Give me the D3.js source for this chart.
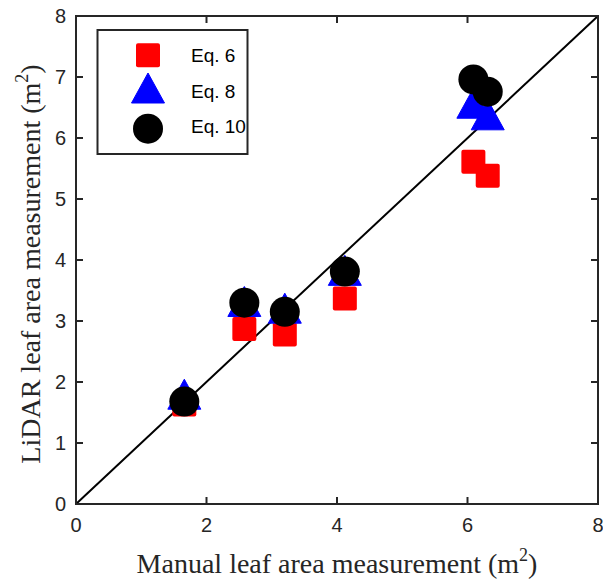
<!DOCTYPE html>
<html>
<head>
<meta charset="utf-8">
<script src="https://cdn.jsdelivr.net/npm/d3@7"></script>
<style>
  body { margin: 0; background: #fff; }
  .tick-label { font-family: "Liberation Sans", Arial, sans-serif; font-size: 20px; fill: #262626; }
  .axis-label { font-family: "Liberation Serif", "Times New Roman", serif; font-size: 28px; fill: #262626; }
  .legend-text { font-family: "Liberation Sans", Arial, sans-serif; font-size: 19px; fill: #000; }
</style>
</head>
<body>
<div id="chart"></div>
<script>
// Data
const manual = [1.66, 2.58, 3.20, 4.12, 6.09, 6.31];
const eq6 = [1.63, 2.87, 2.78, 3.37, 5.61, 5.38];
const eq8 = [1.80, 3.32, 3.21, 3.83, 6.57, 6.38];
const eq10 = [1.68, 3.30, 3.15, 3.81, 6.96, 6.76];
const ticks = [0, 2, 4, 6, 8];
const yTicks = [0, 1, 2, 3, 4, 5, 6, 7, 8];
const legendLabels = ["Eq. 6", "Eq. 8", "Eq. 10"];

// Setup: dimensions and margins
const svgWidth = 603, svgHeight = 581;
const margin = { top: 16, right: 5, bottom: 77, left: 76 };
const innerWidth = svgWidth - margin.left - margin.right;
const innerHeight = svgHeight - margin.top - margin.bottom;
const axisColor = "#262626";

const xScale = d3.scaleLinear().domain([0, 8]).range([0, innerWidth]);
const yScale = d3.scaleLinear().domain([0, 8]).range([innerHeight, 0]);

const svg = d3.select("#chart").append("svg")
    .attr("width", svgWidth)
    .attr("height", svgHeight);

const g = svg.append("g")
    .attr("transform", `translate(${margin.left}, ${margin.top})`);

// 1:1 line
g.append("line")
    .attr("x1", xScale(0)).attr("y1", yScale(0))
    .attr("x2", xScale(8)).attr("y2", yScale(8))
    .attr("stroke", "#000")
    .attr("stroke-width", 2);

// Markers
const sq = 24;
const triPath = "M0,-15L16.5,15L-16.5,15Z";

g.selectAll(".sq")
  .data(manual.map((d, i) => [d, eq6[i]]))
  .join("rect")
    .attr("x", d => xScale(d[0]) - sq / 2)
    .attr("y", d => yScale(d[1]) - sq / 2)
    .attr("width", sq).attr("height", sq)
    .attr("rx", 2)
    .attr("fill", "#ff0000");

g.selectAll(".tri")
  .data(manual.map((d, i) => [d, eq8[i]]))
  .join("path")
    .attr("d", triPath)
    .attr("transform", d => `translate(${xScale(d[0])}, ${yScale(d[1])})`)
    .attr("fill", "#0000ff")
    .attr("stroke", "#0000ff")
    .attr("stroke-linejoin", "round")
    .attr("stroke-width", 1);

g.selectAll(".circ")
  .data(manual.map((d, i) => [d, eq10[i]]))
  .join("circle")
    .attr("cx", d => xScale(d[0]))
    .attr("cy", d => yScale(d[1]))
    .attr("r", 15)
    .attr("fill", "#000");

// Box and inward ticks
const tickLen = 7;
g.append("rect")
    .attr("width", innerWidth).attr("height", innerHeight)
    .attr("fill", "none")
    .attr("stroke", axisColor)
    .attr("stroke-width", 2);

ticks.slice(1, -1).forEach(t => {
  g.append("line").attr("x1", xScale(t)).attr("x2", xScale(t))
    .attr("y1", innerHeight).attr("y2", innerHeight - tickLen)
    .attr("stroke", axisColor).attr("stroke-width", 2);
  g.append("line").attr("x1", xScale(t)).attr("x2", xScale(t))
    .attr("y1", 0).attr("y2", tickLen)
    .attr("stroke", axisColor).attr("stroke-width", 2);
});
yTicks.slice(1, -1).forEach(t => {
  g.append("line").attr("y1", yScale(t)).attr("y2", yScale(t))
    .attr("x1", 0).attr("x2", tickLen)
    .attr("stroke", axisColor).attr("stroke-width", 2);
  g.append("line").attr("y1", yScale(t)).attr("y2", yScale(t))
    .attr("x1", innerWidth).attr("x2", innerWidth - tickLen)
    .attr("stroke", axisColor).attr("stroke-width", 2);
});

// Tick labels
g.selectAll(".xt")
  .data(ticks)
  .join("text")
    .attr("class", "tick-label")
    .attr("x", d => xScale(d))
    .attr("y", innerHeight + 28)
    .attr("text-anchor", "middle")
    .text(d => d);

g.selectAll(".yt")
  .data(yTicks)
  .join("text")
    .attr("class", "tick-label")
    .attr("x", -10)
    .attr("y", d => yScale(d) + 7)
    .attr("text-anchor", "end")
    .text(d => d);

// Axis labels
const xl = svg.append("text")
    .attr("class", "axis-label")
    .attr("x", margin.left + innerWidth / 2)
    .attr("y", 573)
    .attr("text-anchor", "middle")
    .text("Manual leaf area measurement (m");
xl.append("tspan").attr("dy", -12).style("font-size", "18px").text("2");
xl.append("tspan").attr("dy", 12).text(")");

const yl = svg.append("text")
    .attr("class", "axis-label")
    .attr("transform", `translate(40, ${margin.top + innerHeight / 2 + 4}) rotate(-90)`)
    .attr("text-anchor", "middle")
    .text("LiDAR leaf area measurement (m");
yl.append("tspan").attr("dy", -12).style("font-size", "18px").text("2");
yl.append("tspan").attr("dy", 12).text(")");

// Legend
const legend = svg.append("g");
legend.append("rect")
    .attr("x", 97.5).attr("y", 30)
    .attr("width", 150).attr("height", 124)
    .attr("fill", "#fff")
    .attr("stroke", axisColor)
    .attr("stroke-width", 2);

const legY = [55.3, 88, 128.7];
legend.append("rect")
    .attr("x", 148 - sq / 2).attr("y", legY[0] - sq / 2)
    .attr("width", sq).attr("height", sq).attr("rx", 2)
    .attr("fill", "#ff0000");
legend.append("path")
    .attr("d", triPath)
    .attr("transform", `translate(148, ${legY[1]})`)
    .attr("fill", "#0000ff").attr("stroke", "#0000ff")
    .attr("stroke-linejoin", "round").attr("stroke-width", 1);
legend.append("circle")
    .attr("cx", 148).attr("cy", legY[2]).attr("r", 15)
    .attr("fill", "#000");

const legBase = [61.7, 98.3, 133.3];
legend.selectAll(".lt")
  .data(legendLabels)
  .join("text")
    .attr("class", "legend-text")
    .attr("x", 191)
    .attr("y", (d, i) => legBase[i])
    .text(d => d);
</script>
</body>
</html>
